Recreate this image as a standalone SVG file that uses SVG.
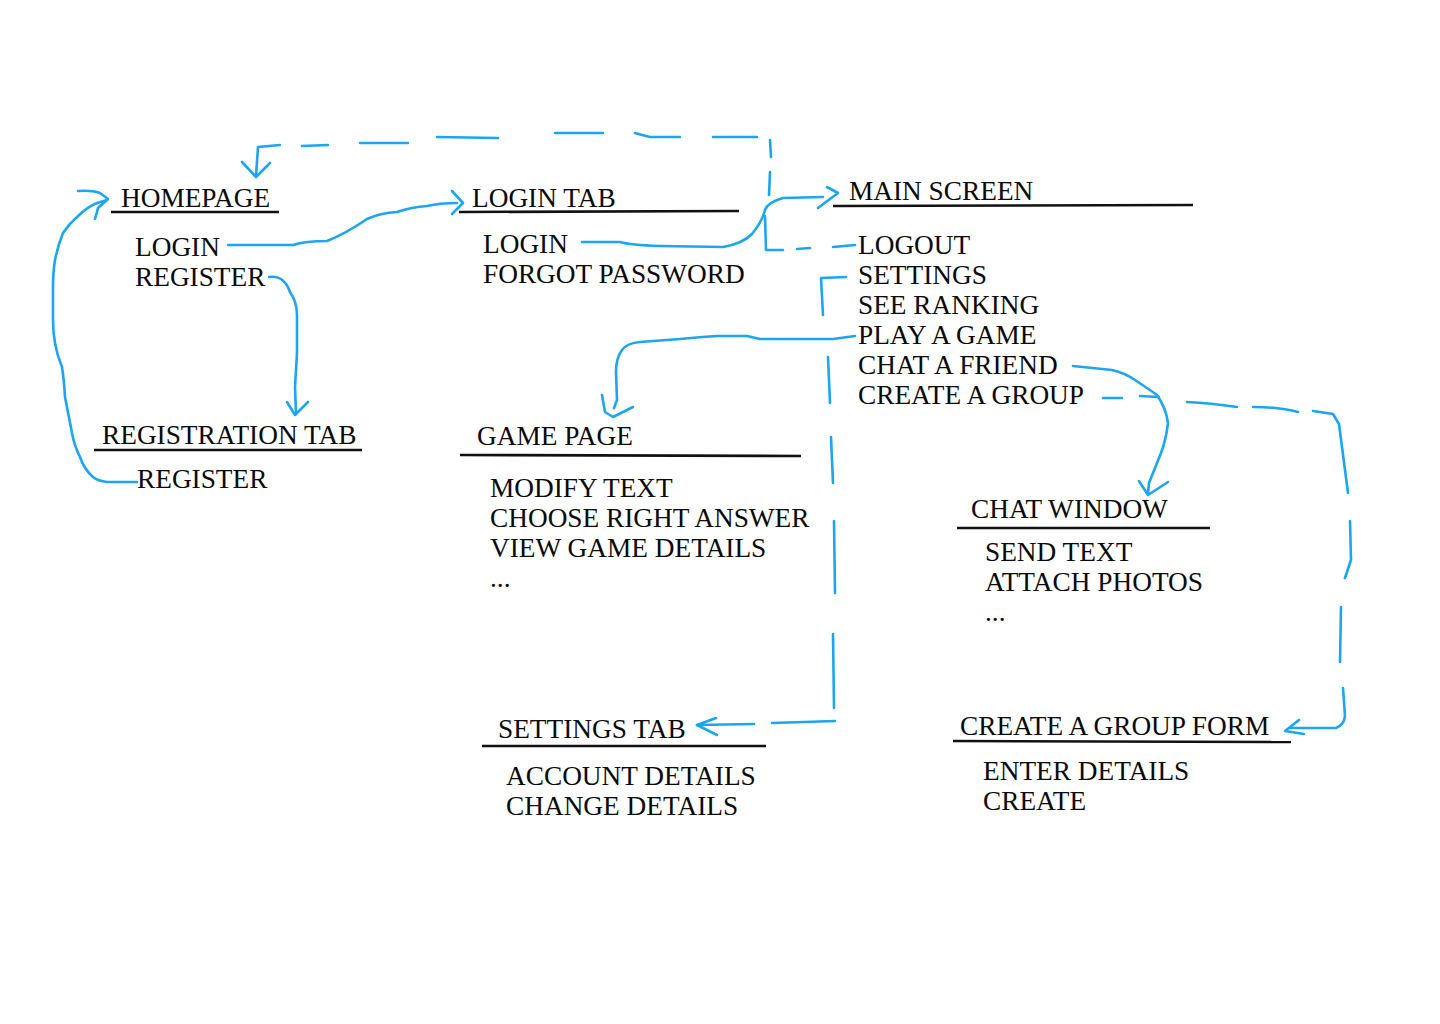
<svg xmlns="http://www.w3.org/2000/svg" width="1440" height="1024" viewBox="0 0 1440 1024">
<style>
text{font-family:"Liberation Serif","Times New Roman",serif;font-size:27.3px;fill:#0a0a0a}
.u{stroke:#111;stroke-width:2.6;fill:none}
.c{stroke:#1CA5F0;stroke-width:2.6;fill:none;stroke-linecap:round;stroke-linejoin:round}
</style>
<rect width="1440" height="1024" fill="#fff"/>
<g id="homepage">
<text x="121" y="207">HOMEPAGE</text>
<line class="u" x1="111" y1="212" x2="279" y2="212"/>
<text x="135" y="256">LOGIN</text>
<text x="135" y="286">REGISTER</text>
</g>
<g id="registration-tab">
<text x="102" y="444">REGISTRATION TAB</text>
<line class="u" x1="94" y1="450" x2="362" y2="450"/>
<text x="137" y="488">REGISTER</text>
</g>
<g id="login-tab">
<text x="472" y="207">LOGIN TAB</text>
<line class="u" x1="459" y1="212" x2="739" y2="211"/>
<text x="483" y="253">LOGIN</text>
<text x="483" y="283">FORGOT PASSWORD</text>
</g>
<g id="main-screen">
<text x="849" y="200">MAIN SCREEN</text>
<line class="u" x1="833" y1="206" x2="1193" y2="205"/>
<text x="858" y="254">LOGOUT</text>
<text x="858" y="284">SETTINGS</text>
<text x="858" y="314">SEE RANKING</text>
<text x="858" y="344">PLAY A GAME</text>
<text x="858" y="374">CHAT A FRIEND</text>
<text x="858" y="404">CREATE A GROUP</text>
</g>
<g id="game-page">
<text x="477" y="445">GAME PAGE</text>
<line class="u" x1="460" y1="455" x2="801" y2="456"/>
<text x="490" y="497">MODIFY TEXT</text>
<text x="490" y="527">CHOOSE RIGHT ANSWER</text>
<text x="490" y="557">VIEW GAME DETAILS</text>
<text x="490" y="587">...</text>
</g>
<g id="chat-window">
<text x="971" y="518">CHAT WINDOW</text>
<line class="u" x1="957" y1="528" x2="1210" y2="528"/>
<text x="985" y="561">SEND TEXT</text>
<text x="985" y="591">ATTACH PHOTOS</text>
<text x="985" y="621">...</text>
</g>
<g id="settings-tab">
<text x="498" y="738">SETTINGS TAB</text>
<line class="u" x1="482" y1="746" x2="766" y2="746"/>
<text x="506" y="785">ACCOUNT DETAILS</text>
<text x="506" y="815">CHANGE DETAILS</text>
</g>
<g id="create-group-form">
<text x="960" y="735">CREATE A GROUP FORM</text>
<line class="u" x1="953" y1="741" x2="1291" y2="742"/>
<text x="983" y="780">ENTER DETAILS</text>
<text x="983" y="810">CREATE</text>
</g>
<g id="connectors">
<path class="c" d="M228,245 L293,245 Q305,241 327,241 Q345,234 367,219 Q380,213 397,212 Q412,207 427,206 Q440,203 457,203"/>
<path class="c" d="M452,191 L463,203 L452,214"/>
<path class="c" d="M582,242 L620,242 Q630,245 660,246 L723,247 Q742,244 752,234 Q762,222 765,210 Q768,202 783,198 L823,197"/>
<path class="c" d="M827,187 L838,193 L818,208"/>
<path class="c" d="M769,195 L770,172 M771,157 L770,140 M757,137 L713,137 M680,137 L650,137 Q642,135 635,133 M603,133 L555,133 M498,138 L437,137 M408,143 L360,143 M328,145 L302,146 M280,145 L258,147 L256,176"/>
<path class="c" d="M242,162 L256,177 L270,163"/>
<path class="c" d="M855,245 L833,247 M810,248 L797,249 M783,250 L766,250 L765,216"/>
<path class="c" d="M846,277 L821,278 L823,315 M828,357 L830,403 M831,437 L833,483 M834,521 L835,593 M833,634 L834,708 M835,721 L772,723 M754,724 L697,725"/>
<path class="c" d="M716,718 L697,725 L717,735"/>
<path class="c" d="M855,336 L833,339 L760,339 L747,336 L717,336 Q700,337 680,339 L640,342 Q627,343 622,350 Q616,358 616,372 L617,400 L614,408"/>
<path class="c" d="M602,395 L605,412 L613,417 L633,407"/>
<path class="c" d="M1073,366 L1112,370 Q1125,373 1135,380 Q1150,390 1157,395 Q1166,408 1168,423 Q1166,440 1161,453 L1149,483 L1148,493"/>
<path class="c" d="M1139,481 L1148,495 L1168,482"/>
<path class="c" d="M1103,398 L1122,398 M1140,396 L1159,397 M1187,402 Q1210,403 1237,407 M1253,407 Q1280,407 1298,412 M1313,411 L1333,414 L1339,424 L1348,493 M1350,521 L1351,560 L1345,578 M1341,607 L1340,662 M1343,688 L1345,716 Q1344,725 1336,728 L1291,728"/>
<path class="c" d="M1299,720 L1285,731 L1304,734"/>
<path class="c" d="M137,482 L107,482 Q98,481 93,477 Q84,469 80,457 Q74,445 72,433 L65,397 Q64,380 62,367 Q57,355 55,343 Q53,332 53,320 L53,287 Q53,272 55,260 Q58,245 63,233 Q69,224 77,217 Q87,207 97,203 L107,200"/>
<path class="c" d="M78,191 Q92,190 100,193 L108,199 L98,208 L95,219"/>
<path class="c" d="M269,277 Q276,276 281,279 Q287,283 290,292 Q297,302 297,315 L297,353 L295,387 L296,413"/>
<path class="c" d="M287,402 L295,415 L308,402"/>
</g>
</svg>
